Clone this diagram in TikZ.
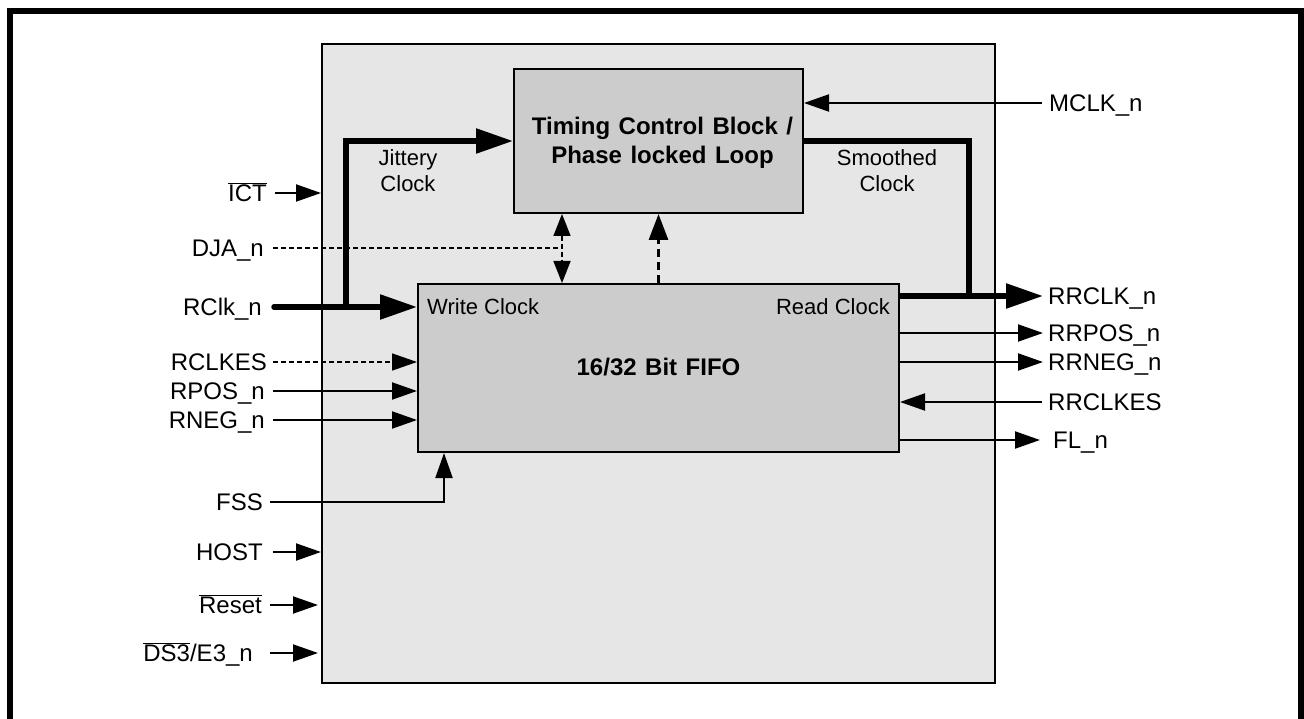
\documentclass[tikz,border=0pt]{standalone}
\usepackage{fontspec}
\setmainfont{Liberation Sans}
\usetikzlibrary{arrows.meta}
\definecolor{chipgray}{HTML}{E6E6E6}
\definecolor{blkgray}{HTML}{CCCCCC}
\newcommand\ovltxt[1]{$\overline{\hbox{#1}}$}
\newcommand\boldfnt{\bfseries\fontsize{24}{29}\selectfont\spaceskip=8.5pt plus 2pt\relax}
\begin{document}
\begin{tikzpicture}[x=1pt,y=-1pt,
  lbl/.style={font=\fontsize{24}{28}\selectfont, text height=17pt, text depth=0pt, inner sep=0pt},
  lblL/.style={lbl,anchor=east},
  lblR/.style={lbl,anchor=west},
  capt/.style={font=\fontsize{22}{26}\selectfont, align=center, inner sep=0pt},
  inlbl/.style={font=\fontsize{22}{26}\selectfont, text height=15.8pt, text depth=0pt, inner sep=0pt},
  boldtxt/.style={font=\boldfnt, align=center, inner sep=0pt},
  chipbox/.style={draw, line width=2pt, fill=chipgray, anchor=north west, inner sep=0pt},
  blkbox/.style={draw, line width=2pt, fill=blkgray, anchor=north west, inner sep=0pt},
  wire/.style={line width=2pt},
  arr/.style={wire,-{Triangle[length=25pt,width=17pt]}},
  bus/.style={line width=5.5pt},
  busarr/.style={bus,-{Triangle[length=37pt,width=24pt]}},
  dsh/.style={line width=1.6pt, dash pattern=on 5pt off 3pt},
  dsharr/.style={dsh,-{Triangle[length=25pt,width=17pt]}},
  dshboth/.style={dsh,{Triangle[length=22pt,width=17pt]}-{Triangle[length=22pt,width=17pt]}},
  dshthick/.style={line width=3pt, dash pattern=on 8pt off 5pt,-{Triangle[length=26pt,width=19pt]}},
]
\clip (0,0) rectangle (1304,719);
\fill[white] (0,0) rectangle (1304,719);
\draw[line width=6.5pt] (10,11) rectangle (1301,780);

% boxes
\node[chipbox, minimum width=673pt, minimum height=639pt] (chip) at (321,43) {};
\node[blkbox, minimum width=289pt, minimum height=144pt] (tcb) at (513,68) {};
\node[blkbox, minimum width=481pt, minimum height=168pt] (fifo) at (417,283) {};

\node[boldtxt] (tcbtxt) at ([xshift=4pt,yshift=-2pt]tcb.center) {Timing Control Block /\\Phase locked Loop};
\node[boldtxt, text height=17.2pt, text depth=0pt] (fifotxt) at (fifo.center |- 0,367) {16/32 Bit FIFO};
\node[inlbl, anchor=west] (wclk) at (427,307) {Write Clock};
\node[inlbl, anchor=east] (rdclk) at (890,307) {Read Clock};
\node[capt] (jit) at (408,171) {Jittery\\Clock};
\node[capt] (smo) at (887,171) {Smoothed\\Clock};

% left labels
\node[lblL] (ictL) at (267,193) {\ovltxt{ICT}};
\node[lblL] (djaL) at (264,248) {DJA\_n};
\node[lblL] (rclkL) at (262,307) {RClk\_n};
\node[lblL] (rclkesL) at (267,362) {RCLKES};
\node[lblL] (rposL) at (265,391) {RPOS\_n};
\node[lblL] (rnegL) at (265,420) {RNEG\_n};
\node[lblL] (fssL) at (263,502) {FSS};
\node[lblL] (hostL) at (263,552) {HOST};
\node[lblL] (resetL) at (262,605) {\ovltxt{Reset}};
\node[lblL] (dsL) at (253,653) {\ovltxt{DS3}/E3\_n};

% right labels
\node[lblR] (mclkL) at (1049,103) {MCLK\_n};
\node[lblR] (rrclkL) at (1048,296) {RRCLK\_n};
\node[lblR] (rrposL) at (1048,333) {RRPOS\_n};
\node[lblR] (rrnegL) at (1048,362) {RRNEG\_n};
\node[lblR] (rrclkesL) at (1048,402) {RRCLKES};
\node[lblR] (flL) at (1053,440) {FL\_n};

\coordinate (jt) at (346,307);
\coordinate (sm) at (969,296);
\coordinate (dj) at (562,248);

% left connections
\draw[arr] ([xshift=8pt]ictL.east) -- (ictL.east -| chip.west);
\draw[dsh] ([xshift=9pt]djaL.east) -- (dj);
\draw[dshboth] (tcb.south -| dj) -- (fifo.north -| dj);
\draw[dshthick] (fifo.north) -- (tcb.south);
\draw[busarr, line cap=round] ([xshift=12pt]rclkL.east) -- (rclkL.east -| fifo.west);
\draw[busarr] (jt) |- (tcb.west);
\draw[dsharr] ([xshift=6pt]rclkesL.east) -- (rclkesL.east -| fifo.west);
\draw[arr] ([xshift=8pt]rposL.east) -- (rposL.east -| fifo.west);
\draw[arr] ([xshift=8pt]rnegL.east) -- (rnegL.east -| fifo.west);
\draw[arr] ([xshift=7pt]fssL.east) -| ([xshift=27pt]fifo.south west);
\draw[arr] ([xshift=10pt]hostL.east) -- (hostL.east -| chip.west);
\draw[arr, shorten >=3pt] ([xshift=8pt]resetL.east) -- (resetL.east -| chip.west);
\draw[arr, shorten >=3pt] ([xshift=17pt]dsL.east) -- (dsL.east -| chip.west);

% right connections
\draw[arr] ([xshift=-7pt]mclkL.west) -- (mclkL.west -| tcb.east);
\draw[bus] (tcb.east) -| (sm);
\draw[busarr] (rrclkL.west -| fifo.east) -- ([xshift=-5pt]rrclkL.west);
\draw[arr] (rrposL.west -| fifo.east) -- ([xshift=-5pt]rrposL.west);
\draw[arr] (rrnegL.west -| fifo.east) -- ([xshift=-5pt]rrnegL.west);
\draw[arr] ([xshift=-6pt]rrclkesL.west) -- (rrclkesL.west -| fifo.east);
\draw[arr] (flL.west -| fifo.east) -- ([xshift=-13pt]flL.west);
\end{tikzpicture}
\end{document}
